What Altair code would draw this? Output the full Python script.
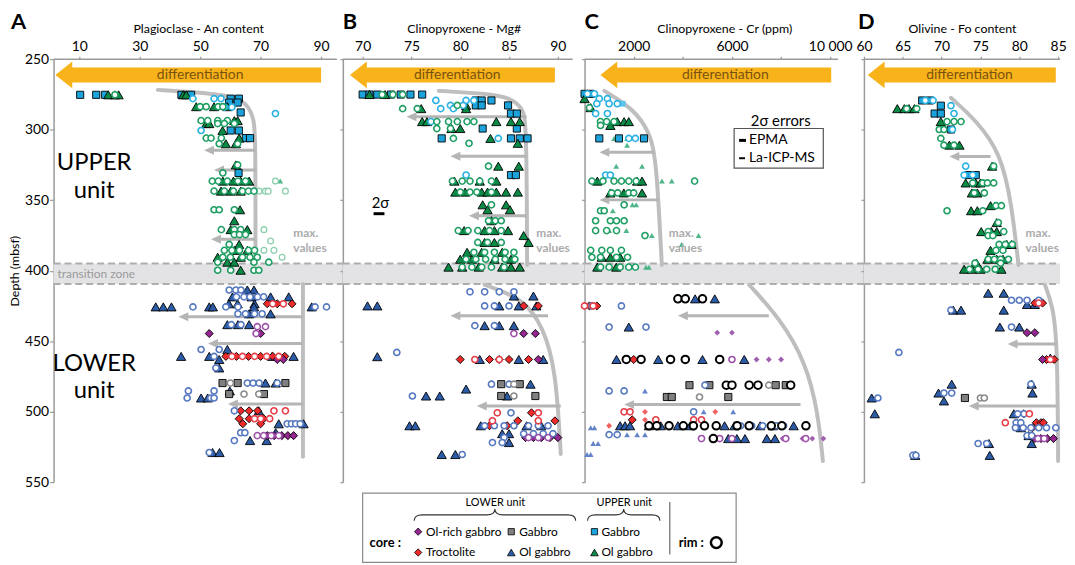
import altair as alt
import pandas as pd

FONT = "Lato"
ORANGE = "#F8B31B"
ENV_GREY = "#BEBEBE"
AXIS_GREY = "#9A9A9A"
H = 427

DEPTH_TICKS = [250, 300, 350, 400, 450, 500, 550]
TRANSITION = [395.0, 409.5]
DIFF_DEPTH = 261.2

COL = {"UG": "#1CA3DC", "UO": "#0A8A45", "LR": "#93278F", "LG": "#808080", "LT": "#EE2A2A", "LO": "#2C5CA8"}
RIM = {"UG": "#29B1E3", "UO": "#1E9E62", "LR": "#9D50A9", "LG": "#8C8C8C", "LT": "#E63E48", "LO": "#5678C1"}
LIGHT = {"UG": "#5CC3EA", "UO": "#4FB68A", "LR": "#A060B0", "LG": "#A0A0A0", "LT": "#F26060", "LO": "#6384C8"}
SHAPE = {"UG": "square", "LG": "square", "UO": "triangle-up", "LO": "triangle-up", "LR": "diamond", "LT": "diamond"}
CORE_SIZE = {"square": 52, "triangle-up": 88, "diamond": 66}

# ---------------- Panel A : plagioclase An content   rows = (depth, [values])
A_UG_core = [(275.3, [10.3, 15.6, 18.5, 43.8, 47.0]), (278, [60.1, 62.8]), (280.8, [59.6, 62.4]),
             (287.8, [63.4]), (300.6, [60.1, 62.8]), (306, [65.1, 66.5]), (330.7, [62.7])]
A_UG_rim = [(278, [47.6, 54.6, 56.9]), (284, [58.0, 60.5]), (288.6, [74.9]), (300.6, [50.3])]
A_UO_core = [(275.3, [19.6, 21.8, 23.0, 44.4, 45.4]), (283.7, [48.7, 54.6, 59.0]), (293.6, [61.3, 62.4]),
             (295.7, [52.0, 53.0]), (300.6, [57.4]), (306, [62.9]), (310, [58.5, 61.8]), (325, [61.8]),
             (336.5, [57.5, 61.0, 63.4, 66.2]), (343.6, [56.9, 60.1, 63.4]), (356.8, [63.2]), (364.6, [61.3]),
             (370.9, [60.1, 65.6]), (381.4, [62.9]), (385.6, [61.3, 65.6]), (390.5, [55.8, 63.4]),
             (394, [59.0, 61.3]), (399.7, [63.4])]
A_UO_rim = [(275.3, [21.8]), (283.7, [50.0, 52.0, 56.0, 57.5]), (293.6, [50.3, 52.5, 55.8, 59.0]),
            (295.7, [55.8, 58.0, 61.3]), (306, [52.0, 53.6, 57.0]), (310, [56.3, 62.4]), (325, [62.4]),
            (330.7, [57.5]), (336.5, [54.0, 56.0, 59.0, 62.5, 65.0]), (343.6, [54.6, 58.0, 61.0, 64.0, 66.0, 67.8]),
            (356.8, [54.6, 56.3, 61.3]), (370.9, [57.0, 61.3, 63.4]), (374.4, [61.3, 63.0, 65.0]),
            (381.4, [59.6]), (385.6, [58.0, 60.5, 63.0, 66.0, 68.0]), (390.5, [57.5, 60.0, 64.0, 66.5, 68.9]),
            (394, [55.8, 67.8, 72.7]), (399.7, [55.8, 60.1, 67.8, 69.4])]
A_UO_la = [(336.5, [76.5])]
A_UO_lar = [(336.5, [74.9]), (343.6, [69.5, 71.6, 72.5, 78.2]), (370.9, [71.1]), (379, [73.3]),
            (385.6, [71.1, 74.4]), (390.5, [77.1])]
A_LO_core = [(413.7, [65.6, 67.8]), (418.6, [60.7, 67.0, 73.3, 79.3]), (423.5, [59.5, 62.4, 68.0]),
             (425.7, [35.3, 37.8, 40.5, 53.0, 54.2, 67.8, 86.9]), (430.6, [66.2, 73.3]), (438.3, [59.0, 62.5, 66.2]),
             (455.9, [59.0]), (460.8, [43.7, 53.0, 73.8, 80.9]), (463, [56.3]), (469, [56.3]), (479.7, [71.6, 75.0]),
             (485.3, [59.8]), (490.3, [50.3, 52.5]), (499.4, [69.4]), (508.6, [76.0, 84.2]), (514.9, [75.0]),
             (520.5, [66.5, 72.0]), (529, [54.1, 56.4])]
A_LO_rim = [(413.7, [59.6, 61.8, 63.5]), (418.6, [62.0, 64.5, 66.5, 69.0, 71.0]), (425.7, [47.6, 58.5, 62.5, 88.0, 91.8]),
            (430.6, [62.5, 65.0, 68.0, 70.5]), (438.3, [60.3, 63.5]), (455.9, [50.3, 56.3]), (460.8, [54.6]),
            (469, [55.2]), (479.7, [65.6, 67.5, 69.5, 75.5]), (485.3, [46.1, 54.6]), (490.3, [45.7, 53.5, 54.6]),
            (499.4, [61.3]), (508.6, [78.8, 80.2, 81.6, 83.1]), (514.9, [63.4, 64.8]), (520.5, [61.3]), (529, [53.0])]
A_LT_core = [(423.5, [72.2, 75.5, 80.4]), (460.8, [58.5, 62.0, 66.0, 70.0, 74.0, 78.0]), (499.4, [63.4, 66.2, 69.0]),
             (505, [62.9, 66.2, 71.0]), (508.6, [64.1, 70.0])]
A_LT_rim = [(423.5, [74.0, 77.5]), (460.8, [60.5, 64.0, 68.0, 72.0, 76.0]), (499.4, [74.4, 78.2]), (505, [68.0, 70.0, 73.0])]
A_LR_core = [(444.6, [53.0, 70.0]), (463, [75.5, 77.5]), (517, [72.2, 74.5, 77.0, 79.0, 80.9])]
A_LR_rim = [(439.7, [68.9, 71.6]), (444.6, [68.5]), (517, [68.9, 71.0, 73.5, 76.0])]
A_LG_core = [(479.7, [57.4, 62.4, 78.2]), (487.5, [59.6, 71.1])]
A_LG_rim = [(479.7, [60.0]), (487.5, [64.5, 69.4])]

# ---------------- Panel B : clinopyroxene Mg#
B_UG_core = [(275.1, [70.0, 70.7, 71.5, 72.9, 73.9, 74.9, 76.1]), (279.3, [81.6, 82.2, 83.2]), (282.8, [81.6, 82.2, 84.9]),
             (288.6, [85.2, 85.8]), (299.2, [82.3, 85.8]), (306.2, [78.1, 85.2, 86.1, 86.9]), (332.2, [85.2, 85.7])]
B_UG_rim = [(279.3, [77.5, 80.6, 81.4]), (282.8, [79.0, 80.3]), (285.1, [78.0, 79.3]), (294.3, [77.0]),
            (306.2, [83.9]), (332.2, [80.6])]
B_UO_core = [(275.1, [70.7, 72.3]), (282.8, [80.6]), (285.1, [76.0, 80.6]), (294.3, [76.1, 76.6, 83.7, 85.2, 86.1]),
             (299.2, [79.1, 80.0]), (306.2, [83.1]), (309.7, [85.9]), (325.9, [83.9, 86.0]), (336.5, [79.4, 82.0, 83.7]),
             (344.3, [79.5, 80.5, 82.2, 82.8, 83.7, 84.7, 85.9]), (353.3, [82.3, 84.7]), (356.8, [82.8, 85.1]),
             (364.6, [83.2]), (371.6, [80.4, 82.5, 83.5, 84.9]), (375.1, [86.5]), (380, [82.5, 83.5, 87.0]),
             (387, [80.7, 82.2, 84.3]), (391.9, [80.0, 81.2, 83.5, 85.2]), (397.5, [78.8, 80.2, 81.9, 84.3, 85.2, 86.1])]
B_UO_rim = [(275.1, [72.0, 73.1, 74.1]), (282.8, [79.7]), (285.1, [74.1, 75.6]), (294.3, [77.6, 78.8, 79.7, 80.7, 81.4]),
            (299.2, [77.6, 79.0]), (306.2, [79.3]), (309.7, [80.9]), (325.9, [82.9]), (336.5, [79.2, 80.2, 81.0, 82.0, 83.2]),
            (344.3, [80.0, 81.0, 81.7, 83.2]), (353.3, [83.2]), (364.6, [82.9, 83.6, 84.2]),
            (371.6, [79.8, 80.8, 81.8, 83.0, 84.2]), (380, [81.8, 82.8, 84.2]), (387, [81.4, 82.5, 83.5, 84.6, 85.5]),
            (391.9, [80.6, 81.6, 82.6, 83.6, 84.6, 85.6]), (397.5, [80.2, 81.2, 82.2, 83.2, 84.5])]
B_LO_core = [(418, [85.5, 87.5]), (425, [70.5, 71.5, 84.0, 86.0, 87.8]), (439, [82.5, 84.0, 85.5]), (461, [71.5]),
             (463, [82.0, 86.0, 88.5]), (480.5, [87.2]), (484, [80.6]), (488.9, [76.5, 77.9, 84.8]),
             (510, [74.8, 75.4, 82.1, 86.8, 88.3]), (515.6, [84.3, 85.0]), (521.9, [85.0]), (530.4, [78.1, 79.5])]
B_LO_rim = [(415, [81.0, 82.5, 84.0, 85.5]), (425, [82.5, 83.5, 85.0]), (439, [81.5, 83.5]), (458, [73.5]),
            (480.5, [83.2, 85.0]), (488.9, [75.1]), (500.8, [85.2]), (510, [82.5, 83.5, 84.5, 85.5, 87.0, 88.0, 89.0]),
            (515.6, [86.5, 87.5, 88.5, 89.5]), (518.4, [84.5]), (521.9, [83.3, 84.3]), (530.4, [80.2])]
B_LT_core = [(425, [86.5, 88.0]), (463, [80.0, 83.0, 85.0, 87.0]), (500.8, [87.3]), (506.5, [85.9, 89.7]), (510, [83.0, 84.8])]
B_LT_rim = [(463, [81.5, 84.0]), (500.8, [83.8, 88.0]), (506.5, [83.3, 88.0])]
B_LR_core = [(444.6, [86.5, 87.7]), (463, [84.0, 88.0]), (518.4, [86.7, 87.5, 88.3, 89.2, 90.0])]
B_LR_rim = [(444.6, [85.5]), (518.4, [87.0, 88.0, 89.0])]
B_LG_core = [(480.5, [84.2, 86.1]), (488.9, [84.2, 87.7])]
B_LG_rim = [(480.5, [85.5]), (488.9, [85.5])]

# ---------------- Panel C : clinopyroxene Cr (ppm)
C_UG_core = [(274.6, [0, 250]), (306.2, [600, 1400, 2420])]
C_UG_rim = [(274.6, [120, 400]), (278, [600, 930]), (281.6, [500, 1000, 1330]), (288.6, [450, 930]),
            (306.2, [1800, 2070]), (332.2, [860, 1050])]
C_UG_la = [(281.6, [1550])]
C_UO_core = [(278, [0]), (284.4, [250]), (294.3, [1330, 1610, 1800]), (297, [1050]), (336.5, [520, 2140, 2340]),
             (344.9, [1050, 1600, 2340]), (390.5, [700, 1050, 1450]), (397.5, [520, 1290])]
C_UO_rim = [(284.4, [200]), (294.3, [650, 900, 1200]), (297, [650]), (336.5, [300, 750, 1200, 1500, 1800, 2100, 4480]),
            (344.9, [1100, 1350, 1800, 2000]), (353.3, [1610]), (357.5, [650, 800]), (364.6, [450, 1050, 1300, 1610]),
            (371.6, [450, 900, 1300]), (375.1, [2460]), (385.6, [250, 700, 1050, 1500]),
            (390.5, [300, 650, 1300, 1750]), (397.5, [650, 1000, 1450, 1800, 2070])]
C_UO_la = [(306.2, [1200, 1730]), (311, [1730]), (325.9, [1290, 2340]), (336.5, [3150, 3550]), (353.3, [1950, 2100]),
           (357.5, [1150]), (371.6, [1000, 1700]), (375.1, [2740, 4640]), (381.4, [3950]), (397.5, [2500, 2620])]
C_LO_core = [(420, [4500, 5300]), (440, [1800]), (463, [1300, 3000, 4800, 6500]),
             (510, [1450, 1650, 1850, 2620, 3100, 3800, 4300, 5700, 6100, 7150, 7660, 8510]),
             (519.1, [5850, 6200, 6530, 7420, 7750])]
C_LO_rim = [(425, [300, 1500]), (440, [1000, 2500]), (481.2, [4900]), (485.3, [1000, 1610]), (500.1, [4440]),
            (510, [6350, 6800, 7250, 7800, 8100]), (516.3, [1000, 1330])]
C_LO_la = [(485.3, [2460]), (500.1, [4850, 6050]), (511.4, [250, 400]), (516.3, [1730, 2140, 2460]),
           (522.6, [350, 550]), (530.4, [100, 250])]
C_LO_rimk = [(420, [3800, 4100, 4800]), (463, [1700, 2300, 3500, 4100, 5500]), (481.2, [5770, 6000, 6700, 7060, 8390]),
             (510, [2620, 2940, 3440, 4020, 4430, 4880, 5360, 6210, 6700, 7600, 8030, 9010]), (519.1, [5240])]
C_LT_core = [(425, [200, 500]), (463, [2000]), (505.8, [1940])]
C_LT_la = [(500.1, [2460, 5320]), (505.8, [2460]), (510, [1000])]
C_LT_rim = [(425, [0, 350]), (500.1, [1610, 1850]), (505.8, [2900, 4440, 4760])]
C_LR_la = [(444, [5400, 6000]), (463, [6500, 7000, 7500, 8000]), (519.1, [7420, 8060, 8870, 9270, 9720])]
C_LR_rim = [(463, [6000]), (519.1, [4760, 5500, 6000, 8190, 9000])]
C_LG_core = [(481.2, [4270, 5080, 7780, 8190]), (489.6, [3350, 3550, 5850])]
C_LG_rim = [(481.2, [7500]), (489.6, [4680])]

# ---------------- Panel D : olivine Fo content
D_UG_core = [(279.3, [67.5, 68.5]), (283, [69.9]), (288.6, [69.1, 69.9]), (299.9, [71.2]), (332.2, [73.5, 74.4])]
D_UG_rim = [(279.3, [67.9, 68.9]), (283, [71.2]), (288.6, [71.6]), (299.9, [71.4]), (325.9, [73.1]), (332.2, [72.9, 74.0])]
D_UO_core = [(285.1, [64.3, 65.2, 65.8, 66.5]), (294.3, [69.9]), (311, [71.0, 72.3]), (325.9, [76.5]),
             (337.8, [73.1, 74.4, 75.0]), (344.9, [73.9, 74.6]), (353.9, [76.3]), (357.5, [73.8, 74.6]),
             (365.9, [77.1]), (372.3, [75.1, 76.4, 77.1]), (381.4, [78.4, 79.0]), (385.6, [76.3]),
             (391.9, [75.9, 77.1, 77.9]), (394.7, [74.5]), (399, [72.9, 73.9, 75.0, 77.7])]
D_UO_rim = [(285.1, [65.5, 66.8]), (294.3, [70.7, 71.6, 72.5]), (299.9, [69.7, 70.3]), (306.2, [69.9]),
            (311, [70.3, 71.6]), (325.9, [76.7]), (337.8, [74.0, 75.3, 75.9, 76.7]), (344.9, [74.2, 75.5]),
            (353.9, [77.0, 77.7]), (357.5, [70.7, 75.3]), (365.9, [77.3]), (372.3, [76.0, 78.0]), (375.1, [76.0, 76.6]),
            (381.4, [77.4, 78.2, 79.1]), (385.6, [77.0, 77.9]), (391.9, [76.0, 76.8, 77.6, 78.6]), (394.7, [74.3, 77.6]),
            (399, [73.6, 74.7, 75.8, 76.9])]
D_LO_core = [(416, [76.0, 78.0]), (424, [81.0, 82.0]), (428, [71.5, 72.5, 78.0]), (440, [77.5, 80.0]), (462, [84.0]),
             (480.5, [71.3, 81.6]), (486.8, [69.6, 81.7]), (490.3, [61.0]), (492.4, [70.3]), (501.5, [61.4, 79.3]),
             (511.4, [80.2]), (517, [81.2]), (522.6, [76.1, 81.6]), (531, [66.6, 76.2])]
D_LO_rim = [(421, [79.0, 80.0, 81.0, 82.5]), (428, [71.2]), (440, [79.0]), (458, [64.5]), (480.5, [81.5]),
            (486.8, [70.3, 71.3]), (490.3, [61.8]), (501.5, [79.8, 80.6]), (507.8, [79.6, 80.2]),
            (511.4, [79.5, 80.5, 81.5, 82.5, 83.5, 84.7]), (517, [81.0, 81.6]), (522.6, [74.7, 75.8]), (531, [66.3, 66.7])]
D_LT_core = [(423, [82.0, 83.0]), (463, [83.5, 84.5]), (501.5, [80.6]), (507.8, [82.2, 82.8, 83.1]), (511.4, [81.7])]
D_LT_rim = [(423, [82.5]), (463, [84.0]), (501.5, [81.3]), (507.8, [78.2])]
D_LR_core = [(444, [81.0, 82.0]), (463, [83.0]), (519.1, [82.0, 82.8, 83.6, 84.4])]
D_LR_rim = [(519.1, [82.4, 83.2])]
D_LG_core = [(490.3, [73.0])]
D_LG_rim = [(490.3, [75.0, 75.5])]

SERIES = {
    "A": [("UO", "la", A_UO_la), ("UO", "lar", A_UO_lar), ("UG", "core", A_UG_core), ("UO", "core", A_UO_core),
          ("LO", "core", A_LO_core), ("LT", "core", A_LT_core), ("LR", "core", A_LR_core), ("LG", "core", A_LG_core),
          ("UG", "rim", A_UG_rim), ("UO", "rim", A_UO_rim), ("LO", "rim", A_LO_rim), ("LT", "rim", A_LT_rim),
          ("LR", "rim", A_LR_rim), ("LG", "rim", A_LG_rim)],
    "B": [("UG", "core", B_UG_core), ("UO", "core", B_UO_core), ("LO", "core", B_LO_core), ("LT", "core", B_LT_core),
          ("LR", "core", B_LR_core), ("LG", "core", B_LG_core), ("UG", "rim", B_UG_rim), ("UO", "rim", B_UO_rim),
          ("LO", "rim", B_LO_rim), ("LT", "rim", B_LT_rim), ("LR", "rim", B_LR_rim), ("LG", "rim", B_LG_rim)],
    "C": [("UG", "la", C_UG_la), ("UO", "la", C_UO_la), ("LO", "la", C_LO_la), ("LT", "la", C_LT_la), ("LR", "la", C_LR_la),
          ("UG", "rim", C_UG_rim), ("UO", "rim", C_UO_rim), ("LO", "rim", C_LO_rim), ("LT", "rim", C_LT_rim),
          ("LR", "rim", C_LR_rim), ("LG", "rim", C_LG_rim), ("UG", "core", C_UG_core), ("UO", "core", C_UO_core),
          ("LO", "core", C_LO_core), ("LT", "core", C_LT_core), ("LG", "core", C_LG_core), ("LO", "rimk", C_LO_rimk)],
    "D": [("UG", "core", D_UG_core), ("UO", "core", D_UO_core), ("LO", "core", D_LO_core), ("LT", "core", D_LT_core),
          ("LR", "core", D_LR_core), ("LG", "core", D_LG_core), ("UG", "rim", D_UG_rim), ("UO", "rim", D_UO_rim),
          ("LO", "rim", D_LO_rim), ("LT", "rim", D_LT_rim), ("LR", "rim", D_LR_rim), ("LG", "rim", D_LG_rim)],
}

# gray "max. values" envelopes: (value, depth) along each curve
ENVELOPES = {
    "A": [[(36, 271.8), (55, 274.5), (62, 277), (66, 283), (67.8, 293), (68.3, 305), (68.3, 390)],
          [(84, 409.5), (84, 532)]],
    "B": [[(77.8, 272.5), (83, 274.5), (85.3, 278), (86.4, 285), (86.8, 295), (86.85, 396)],
          [(82.5, 410), (86.5, 420), (88.5, 440), (89.8, 470), (90.3, 530)]],
    "C": [[(806, 272.5), (1500, 280), (2137, 288.6), (2742, 304.8), (2944, 328.6), (3145, 396)],
          [(6700, 410), (8000, 435), (9000, 465), (9500, 500), (9700, 535)]],
    "D": [[(71.2, 277.4), (74.5, 293.6), (77.6, 316.8), (79.0, 351.9), (79.9, 396)],
          [(83.3, 410), (84.3, 425), (84.9, 450), (85.0, 535)]],
}
# gray arrows: (depth, start value, arrow-tip value)
ARROWS = {
    "A": [(314.6, 68.3, 51.3), (328.6, 68.3, 54.6), (377.7, 68.3, 53.6), (432.7, 84, 42.8), (451.7, 84, 52.6), (494.6, 84, 59.2)],
    "B": [(290.8, 86.8, 74.5), (318.9, 86.8, 79.0), (361, 86.8, 80.9), (432, 89.0, 79.0), (496, 90.3, 81.7)],
    "C": [(316, 2863, 605), (349.8, 3024, 605), (432, 7500, 3800), (495, 8790, 1613)],
    "D": [(319, 76.3, 71.0), (452, 84.9, 78.5), (496, 84.8, 73.5)],
}
# differentiation arrow: (tip, right end, label centre)
DIFF = {"A": (2.1, 90.0, 50.0), "B": (68.7, 89.7, 79.7), "C": (645, 10040, 5730), "D": (60.5, 84.7, 73.6)}
MAXVAL = {"A": 80.8, "B": 87.8, "C": 3427, "D": 80.8}

TITLES = {"A": "Plagioclase - An content", "B": "Clinopyroxene - Mg#", "C": "Clinopyroxene - Cr (ppm)", "D": "Olivine - Fo content"}
XDOM = {"A": [1.5, 97.2], "B": [67.97, 92.74], "C": [0, 11371], "D": [60, 85.25]}
WIDTH = {"A": 292, "B": 244, "C": 282, "D": 198}
LINE_LEN = {"A": 286, "B": 232, "C": 256, "D": 198}
XTICKS = {"A": [10, 30, 50, 70, 90], "B": [70, 75, 80, 85, 90], "C": [2000, 4000, 6000, 8000, 10000],
          "D": [60, 65, 70, 75, 80, 85]}
LETTER_X = {"A": -43, "B": 0, "C": 0, "D": -6}

ARROW_HEAD = "M-1,0L1,-0.9L1,0.9Z"
BIG_HEAD = "M-0.63,0L0.63,-1L0.63,1Z"


def style_rows(panel):
    out = []
    for g, k, rows in SERIES[panel]:
        for d, vals in rows:
            for v in vals:
                if k == "core":
                    shp = SHAPE[g]
                    r = dict(shape=shp, fill=COL[g], stroke="#000000", sw=0.9, size=CORE_SIZE[shp], z=2)
                elif k == "rim":
                    r = dict(shape="circle", fill="#FFFFFF", stroke=RIM[g], sw=1.6, size=38, z=3)
                elif k == "la":
                    r = dict(shape=SHAPE[g], fill=LIGHT[g], stroke=LIGHT[g], sw=0, size=34, z=1)
                elif k == "lar":
                    r = dict(shape="circle", fill="#FFFFFF", stroke="#8ED0AE", sw=1.3, size=34, z=1)
                else:
                    r = dict(shape="circle", fill="#FFFFFF", stroke="#000000", sw=2.0, size=58, z=4)
                r.update(val=v, depth=d)
                out.append(r)
    df = pd.DataFrame(out)
    return df.sort_values("z", kind="stable").reset_index(drop=True)


def one():
    return alt.Chart(pd.DataFrame({"a": [0]}))


def txt(x, y, s, size=12, color="black", weight="normal", align="left", baseline="middle"):
    return one().mark_text(fontSize=size, color=color, fontWeight=weight, align=align, baseline=baseline).encode(
        x=alt.value(x), y=alt.value(y), text=alt.value(s))


def hline(x1, x2, y, color="black", width=1.0):
    return one().mark_rule(color=color, strokeWidth=width).encode(x=alt.value(x1), x2=alt.value(x2), y=alt.value(y))


def brace_path(h):
    a, b, c = 4 / h, -2 / h, -8 / h
    e = (h - 8) / h
    f = 8 / h
    return (f"M-1,{a:.4f} Q-1,{b:.4f} {-e:.4f},{b:.4f} L{-f:.4f},{b:.4f} Q0,{b:.4f} 0,{c:.4f} "
            f"Q0,{b:.4f} {f:.4f},{b:.4f} L{e:.4f},{b:.4f} Q1,{b:.4f} 1,{a:.4f}")


def legend_layers():
    L = []
    L.append(one().mark_rect(fillOpacity=0, stroke="#8A8A8A", strokeWidth=1.2).encode(
        x=alt.value(20), x2=alt.value(397), y=alt.value(438), y2=alt.value(508)))
    L.append(txt(154, 448, "LOWER unit", size=11, align="center"))
    L.append(txt(284, 448, "UPPER unit", size=11, align="center"))
    for cx, h in [(153.5, 81.5), (283.5, 36.5)]:
        L.append(one().mark_point(shape=brace_path(h), filled=False, stroke="#333333", strokeWidth=1.1,
                                  size=(2 * h) ** 2, opacity=1).encode(x=alt.value(cx), y=alt.value(462)))
    L.append(one().mark_rule(color="#8A8A8A", strokeWidth=1.5).encode(
        x=alt.value(330), y=alt.value(447), y2=alt.value(500)))
    L.append(txt(27, 488, "core :", size=13, weight="bold"))
    L.append(txt(339, 488, "rim :", size=13, weight="bold"))
    L.append(one().mark_point(shape="circle", filled=True, fill="#FFFFFF", stroke="#000000", strokeWidth=2.5,
                              size=120, opacity=1).encode(x=alt.value(377), y=alt.value(488)))
    items = [("LR", "Ol-rich gabbro", 0, 0), ("LG", "Gabbro", 1, 0), ("UG", "Gabbro", 2, 0),
             ("LT", "Troctolite", 0, 1), ("LO", "Ol gabbro", 1, 1), ("UO", "Ol gabbro", 2, 1)]
    mx = [76, 170, 254]
    tx = [84, 178, 261]
    ry = [477, 498]
    for g, label, c, r in items:
        shp = SHAPE[g]
        sz = {"square": 40, "triangle-up": 60, "diamond": 55}[shp]
        L.append(one().mark_point(shape=shp, filled=True, fill=COL[g], stroke="#000000", strokeWidth=0.8,
                                  size=sz, opacity=1).encode(x=alt.value(mx[c]), y=alt.value(ry[r])))
        L.append(txt(tx[c], ry[r], label, size=12))
    return L


def make_panel(k):
    W = WIDTH[k]
    xs = alt.Scale(domain=XDOM[k], nice=False, zero=False)
    ys = alt.Scale(domain=[250, 550], reverse=True, nice=False, zero=False)
    xkw = dict(orient="top", title=TITLES[k], values=XTICKS[k], domain=False, tickColor=AXIS_GREY, tickSize=3,
               tickWidth=1.2, labelFontSize=14, labelPadding=3, labelFlush=False, labelOverlap=False,
               titleFontSize=12.5, titleFontWeight="normal", titlePadding=4, grid=False, labelColor="black",
               titleColor="black")
    if k == "C":
        xkw["labelExpr"] = ("datum.value == 10000 ? '10 000' : ((datum.value == 2000 || datum.value == 6000) ? "
                            "format(datum.value, 'd') : '')")
    xaxis = alt.Axis(**xkw)
    if k == "A":
        yaxis = alt.Axis(values=DEPTH_TICKS, title="Depth (mbsf)", labelFontSize=14, titleFontSize=12.5,
                         titleFontWeight="normal", titlePadding=3, labelPadding=1, tickSize=4, domainColor=AXIS_GREY,
                         domainWidth=1.5, tickColor=AXIS_GREY, tickWidth=1.2, grid=False, labelColor="black",
                         titleColor="black")
    else:
        yaxis = alt.Axis(values=DEPTH_TICKS, labels=False, title="", tickSize=3, domainColor=AXIS_GREY,
                         domainWidth=1.5, tickColor=AXIS_GREY, tickWidth=1.2, grid=False)

    def X(f="val"):
        return alt.X(f + ":Q", scale=xs, axis=xaxis)

    def Y(f="depth"):
        return alt.Y(f + ":Q", scale=ys, axis=yaxis)

    layers = []
    # transition zone
    band = pd.DataFrame({"depth": [TRANSITION[0]], "depth2": [TRANSITION[1]]})
    layers.append(alt.Chart(band).mark_rect(color="#E3E3E5").encode(
        x=alt.value(0), x2=alt.value(W), y=Y(), y2="depth2:Q"))
    layers.append(alt.Chart(pd.DataFrame({"depth": TRANSITION})).mark_rule(
        color="#ADADAD", strokeWidth=2, strokeDash=[7, 4]).encode(x=alt.value(0), x2=alt.value(W), y=Y()))
    # top axis line
    layers.append(hline(0, LINE_LEN[k], 0, color=AXIS_GREY, width=1.5))
    # differentiation arrow
    tip, right, tc = DIFF[k]
    dd = pd.DataFrame({"val": [tip], "val2": [right], "tx": [tc], "depth": [DIFF_DEPTH]})
    layers.append(alt.Chart(dd).mark_rule(color=ORANGE, strokeWidth=15, xOffset=14).encode(
        x=X(), x2="val2:Q", y=Y()))
    layers.append(alt.Chart(dd).mark_point(shape=BIG_HEAD, filled=True, fill=ORANGE, strokeWidth=0, size=729,
                                           xOffset=8.5, opacity=1).encode(x=X(), y=Y()))
    layers.append(alt.Chart(dd).mark_text(color="#7A5210", fontSize=14).encode(
        x=X("tx"), y=Y(), text=alt.value("differentiation")))
    # envelopes
    env = pd.DataFrame([dict(seg=s, i=i, val=v, depth=d) for s, curve in enumerate(ENVELOPES[k])
                        for i, (v, d) in enumerate(curve)])
    layers.append(alt.Chart(env).mark_line(color=ENV_GREY, strokeWidth=4, interpolate="basis", strokeCap="round").encode(
        x=X(), y=Y(), detail="seg:N", order="i:Q"))
    # gray arrows
    arr = pd.DataFrame([dict(depth=d, val=t, val2=s) for d, s, t in ARROWS[k]])
    layers.append(alt.Chart(arr).mark_rule(color="#B5B5B5", strokeWidth=3, xOffset=6).encode(
        x=X(), x2="val2:Q", y=Y()))
    layers.append(alt.Chart(arr).mark_point(shape=ARROW_HEAD, filled=True, fill="#B5B5B5", strokeWidth=0, size=100,
                                            xOffset=5, opacity=1).encode(x=X(), y=Y()))
    # data points
    pts = style_rows(k)
    layers.append(alt.Chart(pts).mark_point(filled=True, opacity=1).encode(
        x=X(), y=Y(),
        shape=alt.Shape("shape:N", scale=None),
        fill=alt.Fill("fill:N", scale=None),
        stroke=alt.Stroke("stroke:N", scale=None),
        strokeWidth=alt.StrokeWidth("sw:Q", scale=None),
        size=alt.Size("size:Q", scale=None),
        order=alt.Order("z:Q"),
    ))
    # max. values
    mv = pd.DataFrame({"val": [MAXVAL[k]], "depth": [370.0]})
    layers.append(alt.Chart(mv).mark_text(color="#ABABAB", fontSize=12, fontWeight="bold", align="left",
                                          baseline="top", lineBreak="\n", lineHeight=15).encode(
        x=X(), y=Y(), text=alt.value("max.\nvalues")))
    # panel letter
    layers.append(txt(LETTER_X[k], -47, k, size=22, weight="bold", baseline="top"))

    if k == "A":
        lab = pd.DataFrame({"depth": [323.8, 343.4, 466.4, 485.4], "t": ["UPPER", "unit", "LOWER", "unit"]})
        layers.append(alt.Chart(lab).mark_text(fontSize=24, align="center").encode(
            x=alt.value(41), y=Y(), text="t:N"))
        tz = pd.DataFrame({"depth": [402.3]})
        layers.append(alt.Chart(tz).mark_text(fontSize=12, color="#9A9A9A", align="left").encode(
            x=alt.value(4), y=Y(), text=alt.value("transition zone")))
    if k == "B":
        layers.append(txt(38, 145, "2σ", size=15, align="center"))
        layers.append(hline(31, 42, 156, width=3))
        layers.extend(legend_layers())
    if k == "C":
        layers.append(txt(198, 62, "2σ errors", size=15, align="center"))
        layers.append(one().mark_rect(fillOpacity=0, stroke="#555555", strokeWidth=1.2).encode(
            x=alt.value(151), x2=alt.value(241), y=alt.value(70), y2=alt.value(110)))
        layers.append(hline(156, 163, 82, width=3))
        layers.append(txt(166, 82, "EPMA", size=14))
        layers.append(hline(156, 162, 100, width=2))
        layers.append(txt(166, 100, "La-ICP-MS", size=14))

    return alt.layer(*layers).properties(width=W, height=H)


chart = alt.hconcat(*[make_panel(k) for k in ["A", "B", "C", "D"]], spacing=0, bounds="flush").properties(
    padding=0).configure(font=FONT).configure_view(stroke="transparent")

chart.save("out.html", embed_options={"renderer": "svg", "actions": False})
